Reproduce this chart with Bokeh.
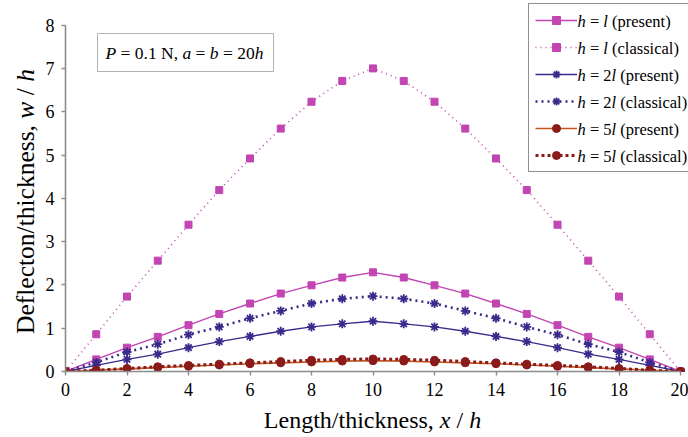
import math
from bokeh.plotting import figure
from bokeh.models import (Label, Legend, LegendItem, BoxAnnotation, Range1d,
                          FixedTicker)
from bokeh.layouts import row, column
from bokeh.embed import file_html
from bokeh.resources import INLINE

# ---------------- data ----------------
x_vals = list(range(21))
h1_present = [0, 0.28, 0.55, 0.80, 1.07, 1.33, 1.57, 1.80, 1.99, 2.17, 2.29,
              2.17, 1.99, 1.80, 1.57, 1.33, 1.07, 0.80, 0.55, 0.28, 0]
h1_classical = [0, 0.86, 1.73, 2.56, 3.39, 4.19, 4.92, 5.61, 6.23, 6.71, 7.00,
                6.71, 6.23, 5.61, 4.92, 4.19, 3.39, 2.56, 1.73, 0.86, 0]
h2_present = [0, 0.14, 0.28, 0.40, 0.55, 0.69, 0.81, 0.93, 1.03, 1.10, 1.16,
              1.10, 1.03, 0.93, 0.81, 0.69, 0.55, 0.40, 0.28, 0.14, 0]
h2_classical = [0, 0.21, 0.45, 0.63, 0.85, 1.03, 1.23, 1.40, 1.57, 1.68, 1.74,
                1.68, 1.57, 1.40, 1.23, 1.03, 0.85, 0.63, 0.45, 0.21, 0]
h5_present = [0, 0.03, 0.06, 0.09, 0.12, 0.15, 0.18, 0.20, 0.22, 0.24, 0.25,
              0.24, 0.22, 0.20, 0.18, 0.15, 0.12, 0.09, 0.06, 0.03, 0]
h5_classical = [0, 0.03, 0.07, 0.11, 0.14, 0.17, 0.20, 0.23, 0.26, 0.28, 0.29,
                0.28, 0.26, 0.23, 0.20, 0.17, 0.14, 0.11, 0.07, 0.03, 0]
x_ticks = [0, 2, 4, 6, 8, 10, 12, 14, 16, 18, 20]
y_ticks = [0, 1, 2, 3, 4, 5, 6, 7, 8]

# ---------------- layout (canvas coordinates of the whole 688x437 area) ----------------
W, H = 688, 437
YW = 42            # width of strip holding the y title
PH = 404           # height of main plot
FL, FR, FT, FB = 65, 688, 0, 371
px_x = 615 / 20.0
px_y = 43.3
FONT = "Liberation Serif"

p = figure(width=W - YW, height=PH, output_backend="svg", toolbar_location=None,
           min_border_left=FL - YW, min_border_right=W - FR, min_border_top=FT,
           min_border_bottom=PH - FB,
           x_range=Range1d(0, (FR - FL) / px_x), y_range=Range1d(0, (FB - FT) / px_y))
p.outline_line_color = None
p.grid.visible = False
p.background_fill_color = "white"

for ax, ticks, bnds, stand in ((p.xaxis, x_ticks, (0, 20), 7), (p.yaxis, y_ticks, (0, 8), 7)):
    ax.ticker = FixedTicker(ticks=ticks)
    ax.bounds = bnds
    ax.axis_line_color = "#8c8c8c"
    ax.axis_line_width = 1.6
    ax.major_tick_line_color = "#8c8c8c"
    ax.major_tick_line_width = 1.4
    ax.major_tick_out = 4
    ax.major_tick_in = 0
    ax.minor_tick_line_color = None
    ax.major_label_text_font = FONT
    ax.major_label_text_font_size = "18px"
    ax.major_label_text_color = "black"
    ax.major_label_standoff = stand

MAG = "#c245b2"
BLU = "#3b2a8c"
ORG = "#c0561e"
DRD = "#8b1a1a"

series = [
    (h1_present, MAG, 1.4, "solid", "square", 7, MAG),
    (h1_classical, MAG, 1.6, "1 4", "square", 7, MAG),
    (h2_present, BLU, 1.4, "solid", "asterisk", 9, BLU),
    (h2_classical, BLU, 2.6, "2 4", "asterisk", 9, BLU),
    (h5_present, ORG, 1.6, "solid", "circle", 8, DRD),
    (h5_classical, DRD, 3.0, "3 3", "circle", 8, DRD),
]
items = []
for i, (ys, col, lw, dash, mk, ms, mcol) in enumerate(series):
    lr = p.line(x_vals, ys, line_color=col, line_width=lw, line_dash=dash)
    if mk == "asterisk":
        sr = p.scatter(x_vals, ys, marker=mk, size=ms, line_color=mcol, line_width=1.8)
    else:
        sr = p.scatter(x_vals, ys, marker=mk, size=ms, fill_color=mcol, line_color=mcol)
    items.append(LegendItem(label=" " * (i + 1), renderers=[lr, sr]))

# legend box: left 528, top 5, padding 6, rows of 20 + 7 spacing
LEG_L, LEG_T, LEG_PAD, LEG_GW, LEG_STAND, LEG_LW = 528, 5, 6, 42, 1, 107
leg_h = 2 * LEG_PAD + 6 * 20 + 5 * 7
legend = Legend(items=items, location=(LEG_L - FL, FB - (LEG_T + leg_h)), margin=0,
                padding=LEG_PAD, spacing=7, glyph_width=LEG_GW, glyph_height=20,
                label_width=LEG_LW, label_height=20, label_standoff=LEG_STAND,
                border_line_color="#222222", border_line_width=1,
                background_fill_color="white", background_fill_alpha=0,
                label_text_font_size="8px")
p.add_layout(legend)

# side strips for the axis titles
yfig = figure(width=YW, height=PH, output_backend="svg", toolbar_location=None,
              min_border=0, x_axis_location=None, y_axis_location=None,
              x_range=Range1d(0, 1), y_range=Range1d(0, 1))
xfig = figure(width=W, height=H - PH, output_backend="svg", toolbar_location=None,
              min_border=0, x_axis_location=None, y_axis_location=None,
              x_range=Range1d(0, 1), y_range=Range1d(0, 1))
for f in (yfig, xfig):
    f.outline_line_color = None
    f.grid.visible = False

# ---------------- mixed italic text helper ----------------
REG = {' ': 250, ',': 250, '.': 250, '/': 278, '=': 564, '(': 333, ')': 333,
       'a': 444, 'b': 500, 'c': 444, 'd': 500, 'e': 444, 'f': 333, 'g': 500, 'h': 500,
       'i': 278, 'k': 500, 'l': 278, 'n': 500, 'o': 500, 'p': 500, 'r': 333, 's': 389,
       't': 278, 'D': 722, 'L': 611, 'N': 722, 'P': 556}
ITA = {'h': 500, 'l': 278, 'w': 667, 'x': 444, 'P': 611, 'a': 500, 'b': 500, '/': 278}


def tw(s, italic):
    tab = ITA if italic else REG
    return sum(tab.get(ch, 500) for ch in s) / 1000.0


def rich(fig, ox, ob, pieces, cx, cy, size, align="left", vertical=False):
    """ox, ob: canvas x of the figure frame's left edge and canvas y of its bottom edge."""
    total = sum(tw(t, it) for t, it in pieces) * size
    off = -total / 2 if align == "center" else 0.0
    for t, it in pieces:
        lead = len(t) - len(t.lstrip(' '))
        core = t.strip(' ')
        o = off + lead * 0.25 * size
        if core:
            if vertical:
                lx, ly, ang = cx - ox, (ob - cy) + o, math.pi / 2
            else:
                lx, ly, ang = cx - ox + o, ob - cy, 0
            fig.add_layout(Label(x=lx, y=ly, x_units="screen", y_units="screen", text=core,
                                 angle=ang, text_font=FONT, text_font_size=f"{size}px",
                                 text_font_style="italic" if it else "normal",
                                 text_align="left", text_baseline="middle",
                                 text_color="black", level="overlay"))
        off += tw(t, it) * size


# axis titles
rich(xfig, 0, H, [("Length/thickness, ", False), ("x", True), (" / ", False), ("h", True)],
     372, 419, 24, align="center")
rich(yfig, 0, PH, [("Deflecton/thickness, ", False), ("w", True), (" / ", False), ("h", True)],
     25, 234, 25.5, align="center", vertical=True)

# parameter box
p.add_layout(BoxAnnotation(left=97 - FL, right=273 - FL, top=FB - 33, bottom=FB - 71,
                           left_units="screen", right_units="screen",
                           top_units="screen", bottom_units="screen",
                           fill_color=None, line_color="black", line_width=1))
rich(p, FL, FB, [("P", True), (" = 0.1 N, ", False), ("a", True), (" = ", False), ("b", True),
                 (" = 20", False), ("h", True)], 105, 52, 17.5)

# legend texts
leg_x = LEG_L + LEG_PAD + LEG_GW + LEG_STAND
for k, (num, kind) in enumerate([("", "present"), ("", "classical"), ("2", "present"),
                                 ("2", "classical"), ("5", "present"), ("5", "classical")]):
    rich(p, FL, FB, [("h", True), (" = " + num, False), ("l", True), (" (" + kind + ")", False)],
         leg_x, LEG_T + LEG_PAD + 10 + 27 * k, 16.5)

layout = column(row(yfig, p, spacing=0), xfig, spacing=0)
open("out.html", "w").write(file_html(layout, INLINE))
